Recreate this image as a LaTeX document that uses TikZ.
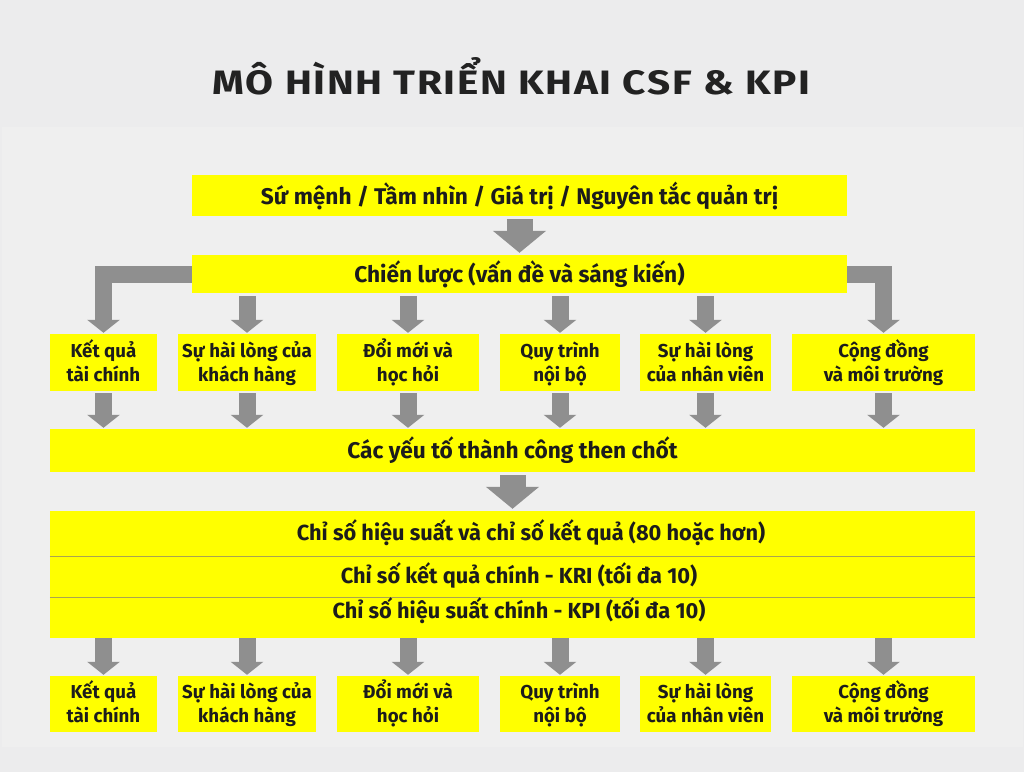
\documentclass[tikz,border=0pt]{standalone}
\usepackage{fontspec}
\setmainfont{Fira Sans}
\usepackage{graphicx}
\usetikzlibrary{arrows.meta}
\definecolor{bg}{RGB}{236,236,237}
\definecolor{panel}{RGB}{239,239,239}
\definecolor{ylw}{RGB}{255,255,0}
\definecolor{arr}{RGB}{143,143,143}
\definecolor{txt}{RGB}{28,28,28}
\definecolor{ttl}{RGB}{34,34,34}
\definecolor{sepc}{RGB}{170,165,80}
\newcommand\ls{\rule[-5pt]{0pt}{23.5pt}}
\begin{document}
\begin{tikzpicture}[x=1pt,y=-1pt,
  ybox/.style={fill=ylw, inner sep=0pt, text=txt, align=center,
    font=\bfseries\fontsize{18.7}{24}\selectfont},
  wide/.style={ybox, font=\bfseries\fontsize{22.7}{24}\selectfont},
  band/.style={fill=ylw, inner sep=0pt, minimum width=925pt},
  bandtext/.style={inner sep=0pt, text=txt, font=\bfseries\fontsize{21.8}{24}\selectfont},
  sepline/.style={draw=sepc, line width=1.2pt},
  fat/.style={draw=arr, line width=17pt, -{Triangle[width=32pt,length=13pt]},
    shorten <=2pt, shorten >=1pt},
  big/.style={draw=arr, line width=26pt, -{Triangle[width=52pt,length=22pt]},
    shorten <=3pt, shorten >=2pt},
]
% background
\useasboundingbox (0,0) rectangle (1024,772);
\fill[bg] (0,0) rectangle (1024,772);
\fill[panel] (2,127) rectangle (1023,747);

% title
\node[text=ttl, inner sep=0pt] (title) at (511.5,76.5)
  {\resizebox{597pt}{37pt}{\fontsize{38}{38}\selectfont\bfseries\addfontfeatures{LetterSpace=4}MÔ HÌNH TRIỂN KHAI CSF \& KPI}};

% top boxes
\node[wide, minimum width=655pt, minimum height=41pt] (b1) at (519.5,195.5)
  {Sứ mệnh / Tầm nhìn / Giá trị / Nguyên tắc quản trị};
\node[wide, minimum width=655pt, minimum height=38pt] (b2) at (519.5,274)
  {Chiến lược (vấn đề và sáng kiến)};

% row 1
\node[ybox, minimum width=107pt, minimum height=57pt] (r1) at (103.5,362.5) {\ls Kết quả\\\ls tài chính};
\node[ybox, minimum width=138pt, minimum height=57pt] (r2) at (247,362.5) {\ls Sự hài lòng của\\\ls khách hàng};
\node[ybox, minimum width=142pt, minimum height=57pt] (r3) at (408,362.5) {\ls Đổi mới và\\\ls học hỏi};
\node[ybox, minimum width=120pt, minimum height=57pt] (r4) at (560,362.5) {\ls Quy trình\\\ls nội bộ};
\node[ybox, minimum width=131pt, minimum height=57pt] (r5) at (705.5,362.5) {\ls Sự hài lòng\\\ls của nhân viên};
\node[ybox, minimum width=183pt, minimum height=57pt] (r6) at (883.5,362.5) {\ls Cộng đồng\\\ls và môi trường};

% CSF
\node[wide, minimum width=925pt, minimum height=43pt] (csf) at (512.5,450.5)
  {Các yếu tố thành công then chốt};

% KPI block
\node[band, minimum height=45pt] (k1) at (512.5,533.5) {};
\node[band, minimum height=41pt] (k2) at (512.5,576.5) {};
\node[band, minimum height=41pt] (k3) at (512.5,617.5) {};
\draw[sepline] (k1.south west) -- (k1.south east);
\draw[sepline] (k2.south west) -- (k2.south east);
\node[bandtext] (t1) at (531,533) {Chỉ số hiệu suất và chỉ số kết quả (80 hoặc hơn)};
\node[bandtext] (t2) at (519,575) {Chỉ số kết quả chính - KRI (tối đa 10)};
\node[bandtext] (t3) at (519,611) {Chỉ số hiệu suất chính - KPI (tối đa 10)};

% row 2
\node[ybox, minimum width=107pt, minimum height=56pt] (q1) at (103.5,704) {\ls Kết quả\\\ls tài chính};
\node[ybox, minimum width=138pt, minimum height=56pt] (q2) at (247,704) {\ls Sự hài lòng của\\\ls khách hàng};
\node[ybox, minimum width=142pt, minimum height=56pt] (q3) at (408,704) {\ls Đổi mới và\\\ls học hỏi};
\node[ybox, minimum width=120pt, minimum height=56pt] (q4) at (560,704) {\ls Quy trình\\\ls nội bộ};
\node[ybox, minimum width=131pt, minimum height=56pt] (q5) at (705.5,704) {\ls Sự hài lòng\\\ls của nhân viên};
\node[ybox, minimum width=183pt, minimum height=56pt] (q6) at (883.5,704) {\ls Cộng đồng\\\ls và môi trường};

% arrows
\draw[big] (b1.south) -- (b2.north);
\draw[fat, shorten <=0pt] (b2.west) -| (r1.north);
\draw[fat, shorten <=0pt] (b2.east) -| (r6.north);
\foreach \n in {r2,r3,r4,r5}{
  \draw[fat, shorten <=3pt] (b2.south -| \n.north) -- (\n.north);
}
\foreach \n in {r1,r2,r3,r4,r5,r6}{
  \draw[fat] (\n.south) -- (\n.south |- csf.north);
}
\draw[big] (csf.south) -- (k1.north);
\foreach \n in {q1,q2,q3,q4,q5,q6}{
  \draw[fat, shorten <=0pt] (\n.north |- k3.south) -- (\n.north);
}
\end{tikzpicture}
\end{document}
